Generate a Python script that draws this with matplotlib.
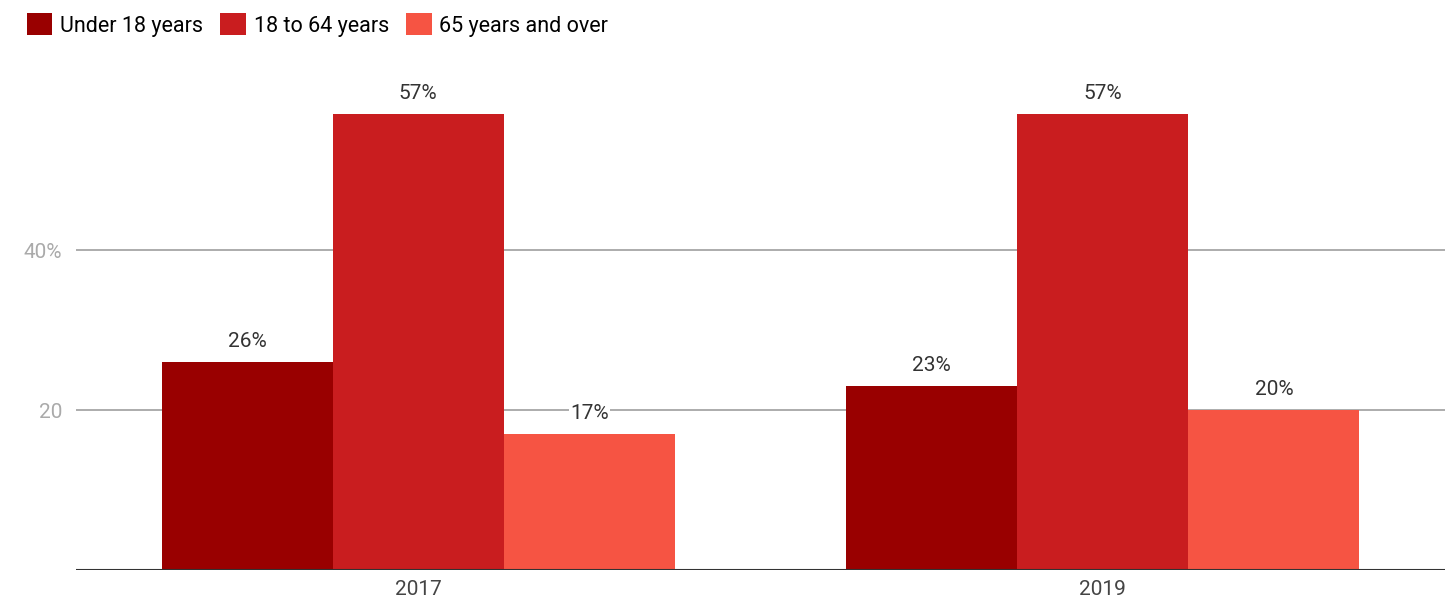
import numpy as np
import matplotlib.pyplot as plt
from matplotlib.patches import Patch

years = ['2017', '2019']
groups = ['Under 18 years', '18 to 64 years', '65 years and over']
values = [
    [26, 23],
    [57, 57],
    [17, 20],
]
colors = ['#990000', '#c91d1f', '#f65443']
yticks = [20, 40]
ytick_labels = ['20', '40%']

plt.rcParams['font.family'] = ['Roboto', 'DejaVu Sans']

fig = plt.figure(figsize=(14.54, 6.03), dpi=100)
ax = fig.add_axes([76 / 1454, 33 / 603, (1445 - 76) / 1454, (570 - 90) / 603])

x = np.arange(len(years))
width = 0.25
for i, (name, vals) in enumerate(zip(groups, values)):
    pos = x + (i - 1) * width
    bars = ax.bar(pos, vals, width, color=colors[i], zorder=2)
    for b, v in zip(bars, vals):
        ax.annotate('%d%%' % v, (b.get_x() + b.get_width() / 2, v),
                    xytext=(0, 8), textcoords='offset points',
                    ha='center', va='bottom', fontsize=15, color='#333333',
                    zorder=4,
                    bbox=dict(facecolor='white', edgecolor='none', pad=1))

ax.set_xlim(-0.5, 1.5)
ax.set_ylim(0, 60)
ax.set_xticks(x)
ax.set_xticklabels(years, fontsize=15, color='#444444')
ax.set_yticks(yticks)
ax.set_yticklabels(ytick_labels, fontsize=15, color='#aaaaaa')
ax.tick_params(axis='both', length=0, pad=7)
ax.tick_params(axis='y', pad=10)
for y in yticks:
    ax.axhline(y, color='#9e9e9e', linewidth=1.2, zorder=1)
ax.axhline(0, color='#333333', linewidth=1.5, zorder=3)
for s in ax.spines.values():
    s.set_visible(False)

handles = [Patch(facecolor=c, edgecolor='none') for c in colors]
fig.legend(handles, groups, loc='upper left', bbox_to_anchor=(0.005, 1.01),
           ncol=3, frameon=False, fontsize=15.5, handlelength=1.2,
           handleheight=1.2, handletextpad=0.35, columnspacing=0.8)

fig.savefig('out.png', dpi=100)
